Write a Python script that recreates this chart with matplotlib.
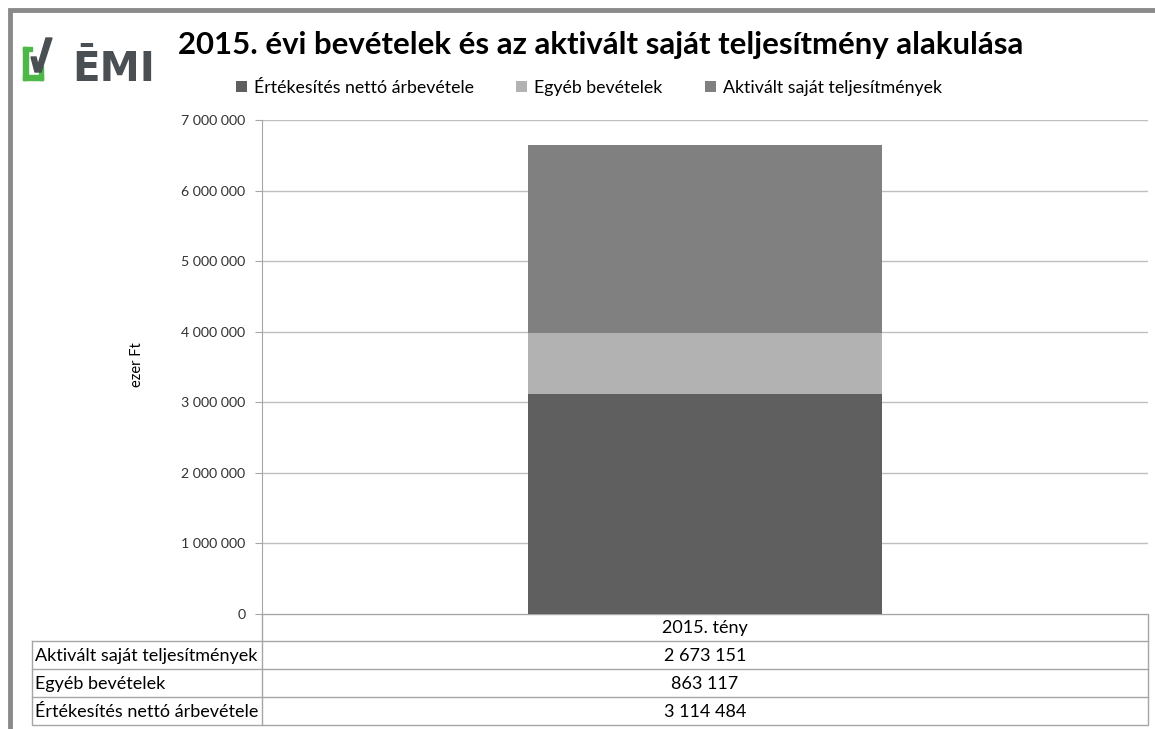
#!/usr/bin/env python3

import matplotlib.pyplot as plt
from matplotlib.patches import Rectangle, Polygon

plt.rcParams['font.family'] = ['Lato', 'DejaVu Sans']

# data
category = '2015. tény'
series = ['Értékesítés nettó árbevétele', 'Egyéb bevételek',
          'Aktivált saját teljesítmények']
values = [3114484, 863117, 2673151]
colors = ['#5f5f5f', '#b2b2b2', '#808080']
yticks = [0, 1000000, 2000000, 3000000, 4000000, 5000000, 6000000, 7000000]
title = '2015. évi bevételek és az aktivált saját teljesítmény alakulása'


def fmt(v):
    return f'{v:,}'.replace(',', ' ')


W, H = 1155, 729
fig = plt.figure(figsize=(W / 100, H / 100), dpi=100)

# full-figure overlay in pixel coords for frame, logo and table
ov = fig.add_axes([0, 0, 1, 1])
ov.set_xlim(0, W)
ov.set_ylim(H, 0)
ov.axis('off')

# frame
ov.plot([10, 10, W], [H, 10, 10], color='#8a8a8a', lw=3.5,
        solid_joinstyle='miter')

# logo
green = '#4db848'
ov.add_patch(Rectangle((23, 47), 5, 33, color=green))
ov.add_patch(Rectangle((23, 47), 9, 4, color=green))
ov.add_patch(Rectangle((23, 75), 20, 5, color=green))
ov.add_patch(Rectangle((39, 66), 4, 14, color=green))
ov.add_patch(Polygon([(31, 57), (36, 57), (38, 65), (46, 38), (52, 38),
                      (41, 72), (35, 72)], color='#4a4f54'))
ov.text(72, 81, 'ĒMI', fontsize=29, fontweight='bold', color='#4a4f54',
        ha='left', va='baseline', family='DejaVu Sans')

ov.text(178, 45, title, fontsize=22.4, fontweight='bold', color='black',
        ha='left', va='center')

# chart
L, R, T, B = 262, 1148, 120, 614
ax = fig.add_axes([L / W, 1 - B / H, (R - L) / W, (B - T) / H])
bottom = 0
for name, v, c in zip(series, values, colors):
    ax.bar(0, v, width=0.4, bottom=bottom, color=c, label=name, zorder=3)
    bottom += v
ax.set_xlim(-0.5, 0.5)
ax.set_ylim(0, 7000000)
ax.set_yticks(yticks)
ax.set_yticklabels([fmt(t) for t in yticks], fontsize=10.2, color='#333333')
ax.set_xticks([])
ax.grid(axis='y', color='#bfbfbf', lw=1, zorder=0)
for s in ['top', 'right', 'bottom']:
    ax.spines[s].set_visible(False)
ax.spines['left'].set_color('#a6a6a6')
ax.tick_params(axis='y', length=5, color='#a6a6a6', pad=7)
ov.text(137, 365, 'ezer Ft', fontsize=10.5, rotation=90,
        ha='center', va='center')

handles, labels = ax.get_legend_handles_labels()
fig.legend(handles, labels, loc='center', ncol=3,
           bbox_to_anchor=(589 / W, 1 - 88 / H), frameon=False,
           fontsize=12.8, handlelength=0.6, handleheight=0.6,
           handletextpad=0.4, columnspacing=2.4)

# data table
lc = '#a6a6a6'
rows = [B, 641, 669, 697, 725]
ov.plot([L, R, R, L, L], [B, B, 725, 725, B], color=lc, lw=1)
ov.plot([32, 32, L], [641, 725, 725], color=lc, lw=1)
for y in rows[1:4]:
    ov.plot([32, R], [y, y], color=lc, lw=1)
ov.text((L + R) / 2, (B + 641) / 2 + 1, category, fontsize=13,
        ha='center', va='center')
for i, (name, v) in enumerate(zip(series[::-1], values[::-1])):
    yc = (rows[i + 1] + rows[i + 2]) / 2 + 1
    ov.text(35, yc, name, fontsize=13, ha='left', va='center')
    ov.text((L + R) / 2, yc, fmt(v), fontsize=13, ha='center', va='center')

fig.savefig('out.png', dpi=100)
